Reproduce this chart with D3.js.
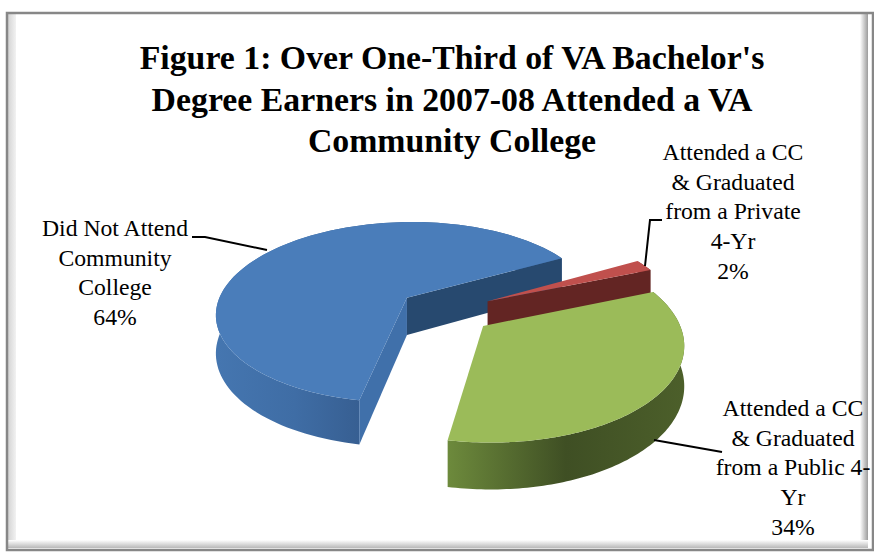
<!DOCTYPE html>
<html>
<head>
<meta charset="utf-8">
<script src="https://cdn.jsdelivr.net/npm/d3@7"></script>
<style>
html, body { margin: 0; padding: 0; background: #fff; }
svg { display: block; }
text { font-family: "Liberation Serif", serif; fill: #000; }
</style>
</head>
<body>
<svg id="chart" width="874" height="555"></svg>
<script>
// Share of Virginia bachelor's degree earners, 2007-08
const categories = [
  "Did Not Attend Community College",
  "Attended a CC & Graduated from a Private 4-Yr",
  "Attended a CC & Graduated from a Public 4-Yr"
];
const shares = [64, 2, 34];

const titleLines = [
  "Figure 1: Over One-Third of VA Bachelor's",
  "Degree Earners in 2007-08 Attended a VA",
  "Community College"
];
const labelLines = [
  ["Did Not Attend", "Community", "College", "64%"],
  ["Attended a CC", "& Graduated", "from a Private", "4-Yr", "2%"],
  ["Attended a CC", "& Graduated", "from a Public 4-", "Yr", "34%"]
];

const topColors = ["#4a7dba", "#c0504d", "#9bbb59"];
const startWallColors = ["#4070aa", "#632523", "#4f6229"];
const endWallColors = ["#27496f", "#632523", "#4f6229"];
const rimStops = [
  [["0", "#4576b0"], ["0.55", "#3f6da5"], ["1", "#375f92"]],
  [["0", "#8c3836"], ["1", "#632523"]],
  [["0", "#6d8a3c"], ["0.5", "#3f4f24"], ["1", "#4c5f2a"]]
];

const svg = d3.select("#chart");
const defs = svg.append("defs");

// Frame of the chart area: dark outline with a soft bevel inside it
const frameGrad = (id, x1, y1, x2, y2, from, to) => {
  const g = defs.append("linearGradient").attr("id", id)
    .attr("x1", x1).attr("y1", y1).attr("x2", x2).attr("y2", y2);
  g.append("stop").attr("offset", 0).attr("stop-color", from);
  g.append("stop").attr("offset", 1).attr("stop-color", to);
};
frameGrad("bevelLeft", 0, 0, 1, 0, "#d4d4d4", "#f2f2f2");
frameGrad("bevelRight", 0, 0, 1, 0, "#ffffff", "#9c9c9c");
frameGrad("bevelBottom", 0, 0, 0, 1, "#ffffff", "#b8b8b8");

const frame = svg.append("g");
frame.append("rect").attr("x", 8).attr("y", 14).attr("width", 8).attr("height", 534).attr("fill", "url(#bevelLeft)");
frame.append("rect").attr("x", 860).attr("y", 14).attr("width", 8).attr("height", 534).attr("fill", "url(#bevelRight)");
frame.append("rect").attr("x", 8).attr("y", 540).attr("width", 860).attr("height", 8).attr("fill", "url(#bevelBottom)");
frame.append("rect").attr("x", 7).attr("y", 13).attr("width", 866).attr("height", 537)
  .attr("fill", "none").attr("stroke", "#878787").attr("stroke-width", 2.5);

// Title
svg.append("g").selectAll("text").data(titleLines).join("text")
  .attr("x", 452)
  .attr("y", (d, i) => 69 + i * 41.5)
  .attr("text-anchor", "middle")
  .attr("font-size", 33.8)
  .attr("font-weight", "bold")
  .text(d => d);

// Pie layout in degrees clockwise from the back of the disc
const firstSliceAngle = 190.5 * Math.PI / 180;
const pie = d3.pie().sort(null).startAngle(firstSliceAngle).endAngle(firstSliceAngle + 2 * Math.PI);
const arcs = pie(shares);

// Tilted disc with perspective: points nearer the viewer are drawn larger
const disc = { cx: 445, cy: 311, r: 192, tilt: 0.48, persp: 0.163, explode: 48, depth: 38 };
const project = (x, z, drop) => {
  const s = 1 / (1 - disc.persp * z / disc.r);
  return [disc.cx + x * s, disc.cy + disc.tilt * z * s + (drop ? disc.depth * s : 0)];
};
const apexOf = a => {
  const mid = (a.startAngle + a.endAngle) / 2;
  return [disc.explode * Math.sin(mid), -disc.explode * Math.cos(mid)];
};
const rimPoint = (a, t, drop) => {
  const [ax, az] = apexOf(a);
  return project(ax + disc.r * Math.sin(t), az - disc.r * Math.cos(t), drop);
};
const rimPath = (a, drop) =>
  d3.range(0, 1.0001, 1 / 120).map(f => rimPoint(a, a.startAngle + f * (a.endAngle - a.startAngle), drop));

const line = d3.line();
const closed = pts => line(pts) + "Z";

rimStops.forEach((stops, i) => {
  const a = arcs[i];
  const xs = rimPath(a, false).map(p => p[0]);
  const g = defs.append("linearGradient").attr("id", "rim" + i)
    .attr("gradientUnits", "userSpaceOnUse")
    .attr("x1", i === 2 ? rimPoint(a, a.endAngle, false)[0] : d3.min(xs))
    .attr("y1", 0)
    .attr("x2", i === 0 ? rimPoint(a, a.startAngle, false)[0] : d3.max(xs))
    .attr("y2", 0);
  stops.forEach(s => g.append("stop").attr("offset", s[0]).attr("stop-color", s[1]));
});

const pieGroup = svg.append("g");
arcs.forEach((a, i) => {
  const [ax, az] = apexOf(a);
  const apexTop = project(ax, az, false);
  const apexLow = project(ax, az, true);
  const top = rimPath(a, false);
  const low = rimPath(a, true);
  const first = 0, last = top.length - 1;

  // Outer rim band
  pieGroup.append("path")
    .attr("d", closed(top.concat(low.slice().reverse())))
    .attr("fill", "url(#rim" + i + ")");

  // A cut face shows only when dropping its edge moves away from the top face
  if (top[first][0] < apexTop[0]) {
    pieGroup.append("path")
      .attr("d", closed([apexTop, top[first], low[first], apexLow]))
      .attr("fill", startWallColors[i]);
  }
  if (top[last][0] > apexTop[0]) {
    pieGroup.append("path")
      .attr("d", closed([apexTop, top[last], low[last], apexLow]))
      .attr("fill", endWallColors[i]);
  }

  // Top face
  pieGroup.append("path")
    .attr("d", closed([apexTop].concat(top)))
    .attr("fill", topColors[i]);
});

// Leader lines from the labels to their slices
const leaders = [
  [[192, 237], [205, 237], [267, 250]],
  [[662, 220], [650, 220], [645, 266]],
  [[654, 440], [722, 452]]
];
svg.append("g").selectAll("path").data(leaders).join("path")
  .attr("d", d => line(d))
  .attr("fill", "none")
  .attr("stroke", "#000")
  .attr("stroke-width", 2);

// Data labels
const labelAnchors = [[115, 236], [733, 160], [793, 416]];
const labelGroups = svg.append("g").selectAll("g").data(labelLines).join("g")
  .attr("transform", (d, i) => `translate(${labelAnchors[i][0]},${labelAnchors[i][1]})`);
labelGroups.selectAll("text").data(d => d).join("text")
  .attr("y", (d, i) => i * 29.7)
  .attr("text-anchor", "middle")
  .attr("font-size", 23.7)
  .text(d => d);
</script>
</body>
</html>
